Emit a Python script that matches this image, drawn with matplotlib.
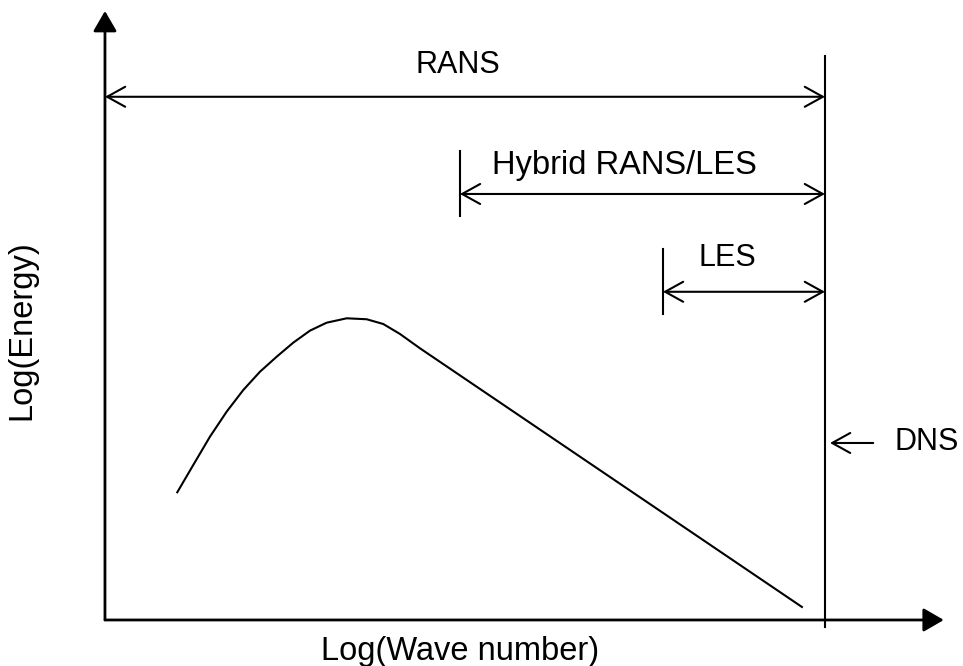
"""
湍流能谱示意图：RANS / Hybrid / LES / DNS 的解析范围
"""
import matplotlib.pyplot as plt

plt.rcParams['font.family'] = ['Liberation Sans', 'DejaVu Sans']

# 能谱曲线 (log 波数, log 能量)
curve_x = [1.004, 1.226, 1.458, 1.690, 1.921, 2.153, 2.385, 2.615, 2.847,
           3.079, 3.357, 3.635, 3.865, 4.097, 4.375, 9.68]
curve_y = [2.128, 2.583, 3.055, 3.472, 3.833, 4.138, 4.388, 4.622, 4.822,
           4.955, 5.028, 5.012, 4.933, 4.767, 4.528, 0.217]

# 各方法的起始波数, 箭头高度
methods = ['RANS', 'Hybrid RANS/LES', 'LES']
method_start = [0.0, 4.93, 7.75]
method_arrow_y = [8.72, 7.10, 5.47]
label_x = [4.90, 7.22, 8.65]
label_y = [9.25, 7.58, 6.03]
label_size = [22, 23.5, 22]

dns_x = 10.0
x_end, y_end = 11.65, 10.15

fig = plt.figure(figsize=(9.63, 6.66), dpi=100)
ax = fig.add_axes([0, 0, 1, 1])
ax.set_xlim(-1.458, 11.917)
ax.set_ylim(-0.767, 10.333)
ax.axis('off')

# 坐标轴
axis_arrow = dict(arrowstyle='-|>,head_length=0.62,head_width=0.36', lw=2.0,
                  color='k', mutation_scale=20, shrinkA=0, shrinkB=0)
ax.annotate('', xy=(x_end, 0), xytext=(0, 0), arrowprops=axis_arrow)
ax.annotate('', xy=(0, y_end), xytext=(0, 0), arrowprops=axis_arrow)

# DNS 竖线
ax.plot([dns_x, dns_x], [-0.12, 9.4], color='k', lw=1.5)

# 各方法范围
open_arrow = dict(arrowstyle='<->,head_length=0.65,head_width=0.36', lw=1.5,
                  color='k', mutation_scale=20, shrinkA=0, shrinkB=0)
for name, x0, ya, lx, ly, fs in zip(methods, method_start, method_arrow_y,
                                    label_x, label_y, label_size):
    ax.annotate('', xy=(x0, ya), xytext=(dns_x, ya), arrowprops=open_arrow)
    if x0 > 0:
        ax.plot([x0, x0], [ya - 0.37, ya + 0.72], color='k', lw=1.5)
    ax.text(lx, ly, name, ha='center', va='center', fontsize=fs)

# DNS 标注
dns_arrow = dict(arrowstyle='->,head_length=0.65,head_width=0.36', lw=1.5,
                 color='k', mutation_scale=20, shrinkA=0, shrinkB=0)
ax.annotate('', xy=(10.07, 2.95), xytext=(10.67, 2.95), arrowprops=dns_arrow)
ax.text(10.97, 2.97, 'DNS', ha='left', va='center', fontsize=22)

# 能谱曲线
ax.plot(curve_x, curve_y, color='k', lw=1.5, solid_joinstyle='round')

ax.text(4.93, -0.53, 'Log(Wave number)', ha='center', va='center', fontsize=23.5)
ax.text(-1.15, 4.83, 'Log(Energy)', ha='center', va='center', fontsize=23.5, rotation=90)

plt.savefig('out.png')
